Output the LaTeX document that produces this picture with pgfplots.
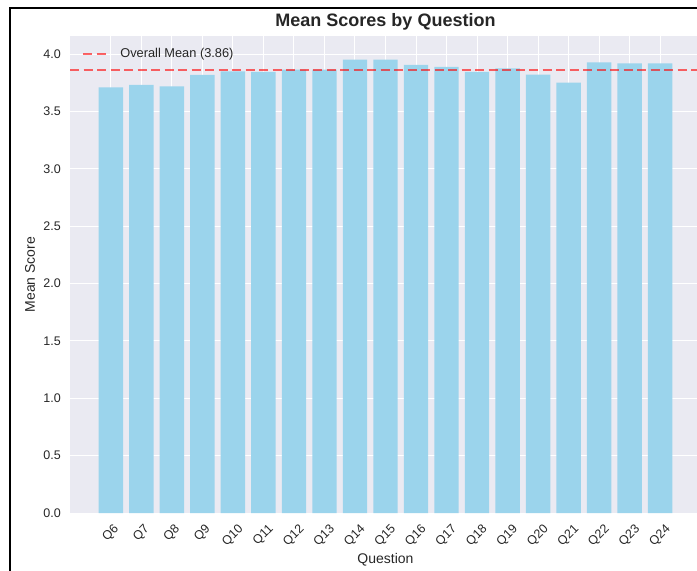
\documentclass[border=0pt]{standalone}
\usepackage{fontspec}
\setmainfont{Liberation Sans}
\usepackage{pgfplots}
\pgfplotsset{compat=1.18}
\definecolor{bgc}{HTML}{EAEAF2}
\definecolor{barc}{HTML}{9BD4EC}
\definecolor{txt}{HTML}{262626}
\pgfplotstableread{
x val
0 3.711
1 3.731
2 3.720
3 3.819
4 3.850
5 3.845
6 3.865
7 3.865
8 3.952
9 3.952
10 3.906
11 3.888
12 3.845
13 3.876
14 3.822
15 3.752
16 3.929
17 3.920
18 3.920
}\scores
\begin{document}
\begin{tikzpicture}[x=1pt,y=1pt]
\begin{axis}[
  set layers,
  at={(70pt,-513pt)}, anchor=south west,
  width=631pt, height=477pt, scale only axis,
  xmin=-1.34, xmax=19.34, ymin=0, ymax=4.158,
  axis background/.style={fill=bgc},
  axis line style={draw=none},
  major tick length=0pt,
  grid=major, grid style={white, line width=1pt},
  xtick={0,...,18},
  xticklabels={\rotatebox{45}{Q6},\rotatebox{45}{Q7},\rotatebox{45}{Q8},\rotatebox{45}{Q9},\rotatebox{45}{Q10},\rotatebox{45}{Q11},\rotatebox{45}{Q12},\rotatebox{45}{Q13},\rotatebox{45}{Q14},\rotatebox{45}{Q15},\rotatebox{45}{Q16},\rotatebox{45}{Q17},\rotatebox{45}{Q18},\rotatebox{45}{Q19},\rotatebox{45}{Q20},\rotatebox{45}{Q21},\rotatebox{45}{Q22},\rotatebox{45}{Q23},\rotatebox{45}{Q24}},
  xticklabel style={anchor=north, inner sep=0pt, yshift=-10pt, font=\fontsize{12.5}{13}\selectfont, text=txt},
  ytick={0,0.5,1,1.5,2,2.5,3,3.5,4},
  yticklabel style={anchor=east, inner sep=0pt, xshift=-9pt, font=\fontsize{12.5}{13}\selectfont, text=txt,
    /pgf/number format/.cd, fixed, fixed zerofill, precision=1, assume math mode=true},
  xlabel={Question},
  xlabel style={at={(axis description cs:0.5,-0.0985)}, anchor=center, font=\fontsize{14}{15}\selectfont, text=txt},
  ylabel={Mean Score},
  ylabel style={at={(axis description cs:-0.0634,0.5)}, anchor=center, font=\fontsize{14}{15}\selectfont, text=txt},
  every axis title shift=0pt,
  title={\bfseries Mean Scores by Question},
  title style={at={(axis description cs:0.5,1.0294)}, anchor=center, font=\fontsize{18}{19}\selectfont, text=txt},
  legend style={at={(axis description cs:0.019,0.9623)}, anchor=west, draw=none, fill=none, inner sep=0pt, outer sep=0pt,
    font=\fontsize{12.8}{13}\selectfont, text=txt, nodes={inner sep=0pt},
    /tikz/every odd column/.append style={column sep=9pt}},
  legend image code/.code={\draw[#1] (0pt,0pt) -- (27pt,0pt);},
]
\addplot[ybar, bar width=0.8, fill=barc, draw=none, forget plot] table[x=x, y=val] {\scores};
\addplot[red, opacity=0.6, line width=2.4pt, dash pattern=on 9pt off 4.5pt] coordinates {(-1.34,3.86) (19.34,3.86)};
\addlegendentry{Overall Mean (3.86)}
\end{axis}
\draw[line width=2pt, black] (10,-575) -- (10,-8) -- (705,-8);
\pgfresetboundingbox
\path[use as bounding box] (0,0) rectangle (697,-571);
\end{tikzpicture}
\end{document}
